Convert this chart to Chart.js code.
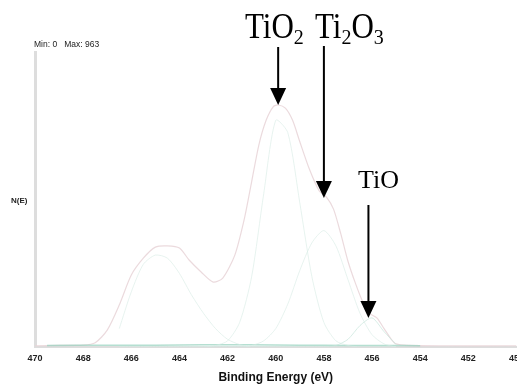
<!DOCTYPE html>
<html>
<head>
<meta charset="utf-8">
<script src="https://cdn.jsdelivr.net/npm/chart.js@4"></script>
<style>
  body { margin: 0; background: #fff; overflow: hidden; }
  #wrap { width: 530px; height: 385px; }
</style>
</head>
<body>
<div id="wrap"><canvas id="myChart"></canvas></div>
<script>
// binding energy (eV) and counts
const energy = [470, 469, 468, 467.5, 467, 466.5, 466, 465.5, 465, 464.5, 464, 463.6, 463.1, 462.6, 462.2, 461.7, 461.3, 461, 460.7, 460.4, 460.1, 459.9, 459.6, 459.3, 459, 458.6, 458.2, 457.9, 457.6, 457.3, 457, 456.7, 456.4, 456.1, 455.8, 455.5, 455.2, 455, 454.5, 453, 450];
const envelope = [4, 5, 6, 14, 55, 137, 235, 290, 326, 330, 323, 284, 245, 212, 225, 300, 420, 540, 660, 740, 785, 790, 780, 740, 670, 580, 510, 490, 450, 370, 280, 210, 150, 110, 95, 60, 25, 10, 5, 4, 4];

const compEnergy = [466.5, 466, 465.5, 465, 464.5, 464, 463.5, 463, 462.5, 462, 461.5, 461, 460.5, 460, 459.5, 459, 458.5, 458, 457.5, 457, 456.5, 456, 455.5, 455];
const compTiO2 = [0, 0, 0, 0, 0, 0, 0, 0, 5, 20, 80, 230, 500, 740, 700, 470, 230, 80, 20, 5, 0, 0, 0, 0];
const compTi2O3 = [0, 0, 0, 0, 0, 0, 0, 0, 0, 0, 0, 5, 20, 60, 140, 250, 340, 380, 330, 220, 110, 40, 10, 0];
const compSat = [60, 180, 270, 300, 290, 240, 170, 110, 60, 25, 8, 0, 0, 0, 0, 0, 0, 0, 0, 0, 0, 0, 0, 0];
const compTiO = [0, 0, 0, 0, 0, 0, 0, 0, 0, 0, 0, 0, 0, 0, 0, 0, 0, 0, 5, 25, 70, 95, 50, 8];

const baseEnergy = [469.5, 467, 465, 463, 461, 459, 457, 455.3, 454];
const baseCounts = [5, 6, 6, 7, 7, 6, 5, 5, 4];

const xTicks = [470, 468, 466, 464, 462, 460, 458, 456, 454, 452, 450];

// peak labels and where their arrows point (BE, count at tip)
const arrowBE = [459.9, 458.0, 456.15];
const arrowTip = [790, 486, 95];

function pts(xs, ys) { return xs.map((x, i) => ({ x: x, y: ys[i] })); }

const annotations = {
  id: 'annotations',
  afterDraw(chart) {
    const ctx = chart.ctx;
    const xs = chart.scales.x, ys = chart.scales.y;
    ctx.save();
    // min / max readout
    ctx.fillStyle = '#222';
    ctx.font = '8.5px Arial';
    ctx.textBaseline = 'alphabetic';
    ctx.fillText('Min: 0   Max: 963', 34, 47);
    // N(E)
    ctx.font = 'bold 8px Arial';
    ctx.fillText('N(E)', 11, 203);

    function arrow(x, y0, y1) {
      ctx.strokeStyle = '#000';
      ctx.fillStyle = '#000';
      ctx.lineWidth = 2;
      ctx.beginPath();
      ctx.moveTo(x, y0);
      ctx.lineTo(x, y1 - 14);
      ctx.stroke();
      ctx.beginPath();
      ctx.moveTo(x - 8, y1 - 17);
      ctx.lineTo(x + 8, y1 - 17);
      ctx.lineTo(x, y1);
      ctx.closePath();
      ctx.fill();
    }
    const xa = arrowBE.map(v => xs.getPixelForValue(v));
    arrow(xa[0], 47, ys.getPixelForValue(arrowTip[0]));
    arrow(xa[1], 46, ys.getPixelForValue(arrowTip[1]));
    arrow(xa[2], 205, ys.getPixelForValue(arrowTip[2]));

    // labels in serif with subscripts
    ctx.fillStyle = '#000';
    function stretched(text, x, y, size, sy) {
      ctx.save();
      ctx.translate(x, y);
      ctx.scale(1, sy);
      ctx.font = size + 'px "Liberation Serif", "Times New Roman", serif';
      ctx.fillText(text, 0, 0);
      const w = ctx.measureText(text).width;
      ctx.restore();
      return w;
    }
    let w = stretched('TiO', 245, 38, 31, 1.15);
    stretched('2', 245 + w, 44, 20, 1.1);
    w = stretched('Ti', 315, 38, 31, 1.15);
    const w2 = stretched('2', 315 + w, 44, 20, 1.1);
    const w3 = stretched('O', 315 + w + w2, 38, 31, 1.15);
    stretched('3', 315 + w + w2 + w3, 44, 20, 1.1);
    stretched('TiO', 358, 188, 26, 1.0);
    ctx.restore();
  }
};

const ctx = document.getElementById('myChart');
new Chart(ctx, {
  type: 'line',
  data: {
    datasets: [
      { label: 'sat', data: pts(compEnergy, compSat), borderColor: 'rgba(215,235,228,0.6)' },
      { label: 'TiO2 comp', data: pts(compEnergy, compTiO2), borderColor: 'rgba(215,235,228,0.6)' },
      { label: 'Ti2O3 comp', data: pts(compEnergy, compTi2O3), borderColor: 'rgba(215,235,228,0.6)' },
      { label: 'TiO comp', data: pts(compEnergy, compTiO), borderColor: 'rgba(200,230,220,0.7)' },
      { label: 'background', data: pts(baseEnergy, baseCounts), borderColor: 'rgba(150,210,190,0.7)', borderWidth: 1.5 },
      { label: 'envelope', data: pts(energy, envelope), borderColor: 'rgba(232,212,215,0.85)', borderWidth: 1.2 }
    ]
  },
  options: {
    responsive: true,
    maintainAspectRatio: false,
    animation: false,
    layout: { padding: { top: 52, right: 11, left: 0, bottom: 0 } },
    elements: {
      point: { radius: 0 },
      line: { borderWidth: 1, tension: 0.25, fill: false }
    },
    plugins: {
      legend: { display: false },
      tooltip: { enabled: false }
    },
    scales: {
      x: {
        type: 'linear',
        reverse: true,
        min: 450,
        max: 470,
        afterFit: s => { s.height = 38; },
        afterBuildTicks: s => { s.ticks = xTicks.map(v => ({ value: v })); },
        grid: { display: false, drawTicks: false },
        border: { color: '#ddd', width: 2 },
        ticks: {
          color: '#222',
          font: { family: 'Arial', size: 9, weight: 'bold' },
          padding: 6,
          maxRotation: 0,
          autoSkip: false
        },
        title: {
          display: true,
          text: 'Binding Energy (eV)',
          color: '#111',
          font: { family: 'Arial', size: 12, weight: 'bold' },
          padding: { top: 1, bottom: 0 }
        }
      },
      y: {
        min: 0,
        max: 963,
        afterFit: s => { s.width = 35; },
        grid: { display: false, drawTicks: false },
        border: { color: '#ddd', width: 3 },
        ticks: { display: false }
      }
    }
  },
  plugins: [annotations]
});
</script>
</body>
</html>
